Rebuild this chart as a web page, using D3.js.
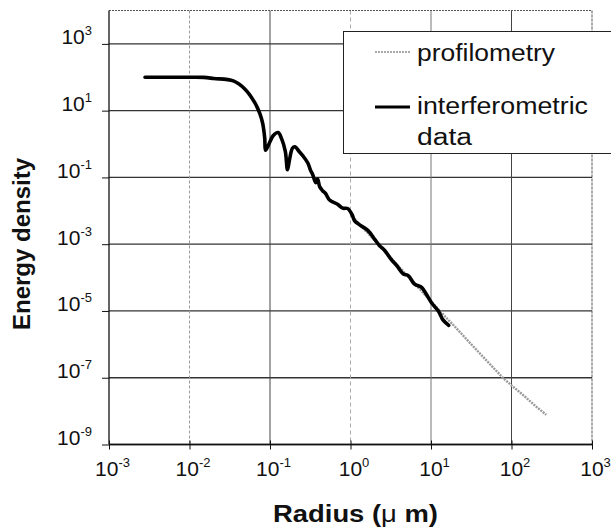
<!DOCTYPE html>
<html><head><meta charset="utf-8">
<script src="https://cdn.jsdelivr.net/npm/d3@7"></script>
<style>body{margin:0;background:#fff}svg{display:block}text{font-family:"Liberation Sans",Arial,sans-serif}</style>
</head><body>
<svg id="c" width="611" height="527"></svg>
<script>
// ---- data ----
const xTickExps = [-3, -2, -1, 0, 1, 2, 3];
const yTickExps = [-9, -7, -5, -3, -1, 1, 3];
const interfRadius = [0.0028,0.005,0.01,0.015,0.02,0.035,0.049,0.065,0.075,0.081,0.086,0.088,0.095,0.11,0.126,0.14,0.155,0.165,0.175,0.19,0.204,0.23,0.257,0.295,0.32,0.34,0.37,0.39,0.415,0.45,0.49,0.55,0.69,0.8,0.92,1.05,1.12,1.3,1.64,2.0,2.3,2.66,3.2,3.8,4.5,5.25,6.2,7.7,8.6,10.2,12.5,14,16.6];
const interfEnergy = [100,100,100,99,92,78,44,17,8,4.2,1.5,0.65,0.9,1.8,2.2,1.4,0.6,0.17,0.35,0.75,0.83,0.6,0.44,0.27,0.16,0.12,0.07,0.09,0.052,0.04,0.033,0.021,0.0158,0.012,0.0117,0.0075,0.0051,0.0038,0.0026,0.0014,0.0009,0.00065,0.00035,0.00022,0.00013,0.000112,0.000065,0.00005,0.000034,0.0000174,0.0000095,0.0000055,0.0000037];
const profRadius = [1,1.5,2,3,5,7,10,15,20,30,50,78,100,150,200,270];
const profEnergy = [0.0078,0.0027,0.0013,0.00045,0.000118,0.000049,0.0000195,0.0000068,0.0000033,0.00000115,0.00000031,0.0000001,0.000000059,0.000000026,0.000000014,0.0000000078];
const legendLabels = ["profilometry", ["interferometric","data"]];

const svg = d3.select("#c");
const x = d3.scaleLog().domain([1e-3, 1e3]).range([109, 592]);
const y = d3.scaleLog().domain([1e-9, 1e4]).range([444.5, 10.5]);

// horizontal grid
const hg = svg.append("g");
yTickExps.forEach(e => {
  hg.append("line").attr("x1", x(1e-3)).attr("x2", x(1e3))
    .attr("y1", y(Math.pow(10, e))).attr("y2", y(Math.pow(10, e)))
    .attr("stroke", "#333").attr("stroke-width", 1.3);
});
// vertical grid
const vStyle = {"-2": ["#999", "3,2"], "-1": ["#444", null], "0": ["#aaa", "4,3"], "1": ["#777", null], "2": ["#444", null]};
[-2, -1, 0, 1, 2].forEach(e => {
  const s = vStyle[e];
  const l = hg.append("line").attr("x1", x(Math.pow(10, e))).attr("x2", x(Math.pow(10, e)))
    .attr("y1", y(1e4)).attr("y2", y(1e-9)).attr("stroke", s[0]).attr("stroke-width", 1);
  if (s[1]) l.attr("stroke-dasharray", s[1]);
});
// frame top/right
svg.append("line").attr("x1", x(1e-3)).attr("x2", x(1e3)).attr("y1", y(1e4)).attr("y2", y(1e4)).attr("stroke", "#555").attr("stroke-dasharray", "2,1");
svg.append("line").attr("x1", x(1e3)).attr("x2", x(1e3)).attr("y1", y(1e4)).attr("y2", y(1e-9)).attr("stroke", "#555").attr("stroke-dasharray", "3,1");

// axes
const xAxis = d3.axisBottom(x).tickValues(xTickExps.map(e => Math.pow(10, e))).tickSize(5).tickFormat("");
const gx = svg.append("g").attr("transform", `translate(0,${y(1e-9)})`).call(xAxis);
gx.select(".domain").attr("stroke", "#111").attr("stroke-width", 1.3).attr("d", `M${x(1e-3)},0H${x(1e3)}`);
gx.selectAll(".tick line").attr("stroke", "#111").attr("y1", -4);
gx.selectAll(".tick").each(function(d) {
  const e = Math.round(Math.log10(d));
  const t = d3.select(this).append("text").attr("y", 31).attr("x", 3).attr("text-anchor", "middle")
    .attr("fill", "#111").attr("font-size", 21);
  t.append("tspan").text("10");
  t.append("tspan").attr("dy", -9).attr("font-size", 13).text(String(e));
});
const yAxis = d3.axisLeft(y).tickValues(yTickExps.map(e => Math.pow(10, e))).tickSize(7).tickFormat("");
const gy = svg.append("g").attr("transform", `translate(${x(1e-3)},0)`).call(yAxis);
gy.select(".domain").attr("stroke", "#111").attr("stroke-width", 1.3).attr("d", `M0,${y(1e4)}V${y(1e-9)}`);
gy.selectAll(".tick line").attr("stroke", "#111");
gy.selectAll(".tick").each(function(d) {
  const e = Math.round(Math.log10(d));
  const t = d3.select(this).append("text").attr("x", -17).attr("y", 0).attr("text-anchor", "end")
    .attr("fill", "#111").attr("font-size", 21);
  t.append("tspan").text("10");
  t.append("tspan").attr("dy", -9).attr("font-size", 13).text(String(e));
});

// series
const line = d3.line().x(d => x(d[0])).y(d => y(d[1]));
svg.append("path").datum(profRadius.map((r, i) => [r, profEnergy[i]]))
  .attr("d", line).attr("fill", "none").attr("stroke", "#999").attr("stroke-width", 2.4).attr("stroke-dasharray", "2,1");
svg.append("path").datum(interfRadius.map((r, i) => [r, interfEnergy[i]]))
  .attr("d", line.curve(d3.curveCatmullRom)).attr("fill", "none").attr("stroke", "#000").attr("stroke-width", 3.6)
  .attr("stroke-linejoin", "round").attr("stroke-linecap", "round");

// legend
const lg = svg.append("g");
lg.append("rect").attr("x", 343.5).attr("y", 31.5).attr("width", 280).attr("height", 122)
  .attr("fill", "#fff").attr("stroke", "#222").attr("stroke-width", 1);
lg.append("line").attr("x1", 375).attr("x2", 410).attr("y1", 52).attr("y2", 52)
  .attr("stroke", "#aaa").attr("stroke-width", 2).attr("stroke-dasharray", "2,1");
lg.append("text").attr("x", 417).attr("y", 61).attr("font-size", 23).attr("fill", "#111")
  .attr("textLength", 138).attr("lengthAdjust", "spacingAndGlyphs").text(legendLabels[0]);
lg.append("line").attr("x1", 375).attr("x2", 410).attr("y1", 107).attr("y2", 107)
  .attr("stroke", "#000").attr("stroke-width", 3);
lg.append("text").attr("x", 417).attr("y", 114).attr("font-size", 23).attr("fill", "#111")
  .attr("textLength", 171).attr("lengthAdjust", "spacingAndGlyphs").text(legendLabels[1][0]);
lg.append("text").attr("x", 417).attr("y", 145).attr("font-size", 23).attr("fill", "#111")
  .attr("textLength", 55).attr("lengthAdjust", "spacingAndGlyphs").text(legendLabels[1][1]);

// axis titles
const xt = svg.append("text").attr("x", 273).attr("y", 521.5).attr("text-anchor", "start")
  .attr("font-size", 23).attr("font-weight", "bold").attr("fill", "#111")
  .attr("textLength", 165).attr("lengthAdjust", "spacingAndGlyphs");
xt.append("tspan").text("Radius (");
xt.append("tspan").attr("font-weight", "normal").text("μ");
xt.append("tspan").text(" m)");
svg.append("text").attr("transform", "translate(30,244) rotate(-90)").attr("text-anchor", "middle")
  .attr("font-size", 23).attr("font-weight", "bold").attr("fill", "#111")
  .attr("textLength", 172).attr("lengthAdjust", "spacingAndGlyphs").text("Energy density");
</script>
</body></html>
